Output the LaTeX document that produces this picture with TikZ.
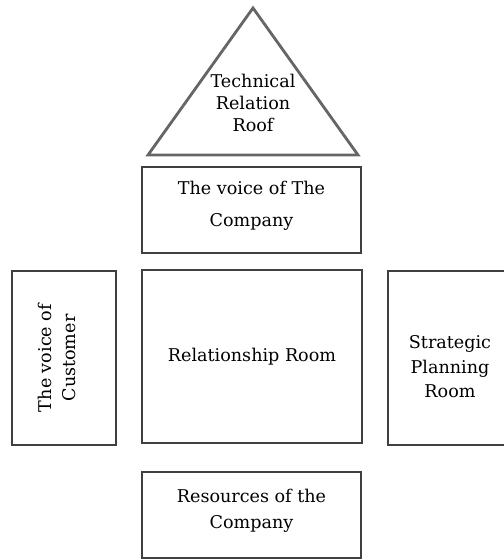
\documentclass[tikz,border=0pt]{standalone}
\usepackage{fontspec}
\setmainfont{DejaVu Serif}
\usepackage{tikz}
\usetikzlibrary{positioning}

\begin{document}
\begin{tikzpicture}[
  room/.style={draw=black!75, line width=1.2pt, fill=white, align=center, inner sep=2pt,
    font=\fontsize{10}{14}\selectfont},
  txt/.style={align=center, inner sep=1pt, font=\fontsize{10}{14}\selectfont},
  roof/.style={draw=black!60, line width=1.6pt, line join=miter}
  ]
  \useasboundingbox (0,0) rectangle (10.08,11.2);
  % roof
  \draw[roof] (5.06,11.04) -- (2.96,8.10) -- (7.16,8.10) -- cycle;
  \node (techroof) [txt, fill=white, font=\fontsize{10}{12.5}\selectfont] at (5.06,9.14)
    {Technical\\Relation\\Roof};
  % rooms
  \node (voicecomp) [room, minimum width=4.38cm, minimum height=1.72cm] at (5.03,7.0) {};
  \node (voicecomptxt) [txt] at (5.03,7.09) {The voice of The\\[4pt]Company};
  \node (relroom) [room, minimum width=4.40cm, minimum height=3.46cm] at (5.04,4.07)
    {Relationship Room};
  \node (voicecust) [room, minimum width=2.08cm, minimum height=3.48cm] at (1.28,4.04) {};
  \node (voicecusttxt) [txt, rotate=90] at (1.14,4.04) {The voice of\\Customer};
  \node (strategic) [room, minimum width=2.48cm, minimum height=3.48cm] at (9.0,4.04) {};
  \node (strategictxt) [txt] at (9.0,3.86) {Strategic\\Planning\\Room};
  \node (resources) [room, minimum width=4.38cm, minimum height=1.72cm] at (5.03,0.90) {};
  \node (resourcestxt) [txt] at (5.03,0.98) {Resources of the\\[1pt]Company};
\end{tikzpicture}
\end{document}
